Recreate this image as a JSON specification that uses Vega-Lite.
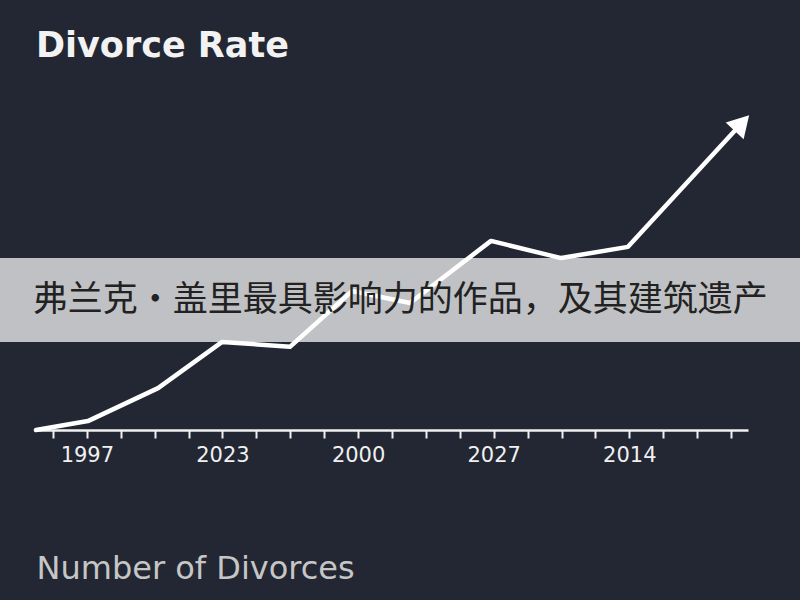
{
  "$schema": "https://vega.github.io/schema/vega-lite/v6.json",
  "width": 712,
  "height": 330,
  "autosize": {"type": "none"},
  "padding": {"left": 36, "top": 100, "right": 52, "bottom": 170},
  "background": "#222733",
  "config": {
    "view": {"stroke": null},
    "font": "DejaVu Sans"
  },
  "title": {
    "text": "Divorce Rate",
    "anchor": "start",
    "frame": "group",
    "font": "DejaVu Sans",
    "fontSize": 35,
    "fontWeight": "bold",
    "color": "#f2f2f2",
    "baseline": "alphabetic",
    "offset": 8
  },
  "datasets": {
    "series": [
      {"t": -0.5, "rate": 0},
      {"t": 1.03, "rate": 2.7},
      {"t": 3.1, "rate": 12.7},
      {"t": 4.99, "rate": 26.7},
      {"t": 6.99, "rate": 25.2},
      {"t": 8.82, "rate": 42.1},
      {"t": 10.53, "rate": 38.5},
      {"t": 12.92, "rate": 57.3},
      {"t": 14.99, "rate": 52.1},
      {"t": 16.96, "rate": 55.5},
      {"t": 20.32, "rate": 93.0}
    ],
    "banner": [
      {"x1": -1.6, "x2": 22.1, "y1": 26.7, "y2": 52.1, "xc": 10.24, "yc": 39.4, "label": "弗兰克·盖里最具影响力的作品，及其建筑遗产"}
    ]
  },
  "encoding": {
    "x": {
      "type": "quantitative",
      "scale": {"domain": [-0.5, 20.5], "nice": false, "zero": false},
      "title": "Number of Divorces",
      "axis": {
        "values": [0, 1, 2, 3, 4, 5, 6, 7, 8, 9, 10, 11, 12, 13, 14, 15, 16, 17, 18, 19, 20],
        "labelExpr": "datum.value == 1 ? '1997' : datum.value == 5 ? '2023' : datum.value == 9 ? '2000' : datum.value == 13 ? '2027' : datum.value == 17 ? '2014' : ''",
        "grid": false,
        "domainColor": "#f0f0f0",
        "domainWidth": 2.5,
        "tickColor": "#f0f0f0",
        "tickWidth": 2,
        "tickSize": 8,
        "labelColor": "#f0f0f0",
        "labelFont": "DejaVu Sans",
        "labelFontSize": 21,
        "labelPadding": 6,
        "labelOverlap": false,
        "titleFont": "DejaVu Sans",
        "titleFontSize": 32,
        "titleFontWeight": "normal",
        "titleColor": "#c6c6c6",
        "titleAnchor": "start",
        "titleAlign": "left",
        "titleBaseline": "alphabetic",
        "titleX": 0,
        "titleY": 148
      }
    },
    "y": {"type": "quantitative", "scale": {"domain": [0, 100], "nice": false}, "axis": null}
  },
  "layer": [
    {
      "data": {"name": "banner"},
      "mark": {"type": "rect", "color": "#c0c1c4"},
      "encoding": {
        "x": {"field": "x1"},
        "x2": {"field": "x2"},
        "y": {"field": "y1"},
        "y2": {"field": "y2"}
      }
    },
    {
      "data": {"name": "series"},
      "mark": {"type": "line", "color": "#ffffff", "strokeWidth": 4.5, "strokeJoin": "round", "strokeCap": "round"},
      "encoding": {
        "x": {"field": "t"},
        "y": {"field": "rate"}
      }
    },
    {
      "data": {"name": "series"},
      "transform": [{"filter": "datum.t > 20"}],
      "mark": {"type": "point", "shape": "triangle-up", "filled": true, "color": "#ffffff", "opacity": 1, "size": 600, "angle": 43},
      "encoding": {
        "x": {"field": "t"},
        "y": {"field": "rate"}
      }
    },
    {
      "data": {"name": "banner"},
      "mark": {"type": "text", "font": "Noto Sans CJK SC", "fontSize": 35, "color": "#222222", "align": "center", "baseline": "middle"},
      "encoding": {
        "x": {"field": "xc"},
        "y": {"field": "yc"},
        "text": {"field": "label"}
      }
    }
  ]
}
